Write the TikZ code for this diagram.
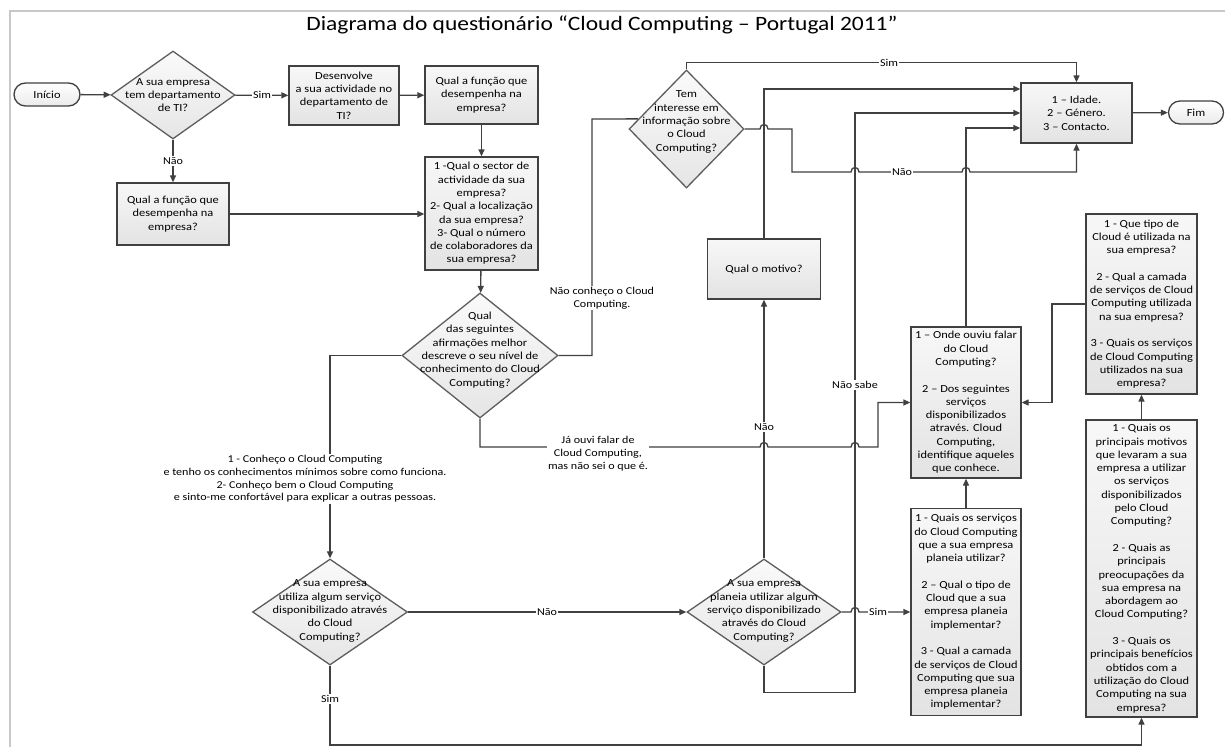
\documentclass[tikz,border=0pt]{standalone}
\usepackage{fontspec}
\setmainfont{Carlito}[FakeStretch=1.15]
\usetikzlibrary{arrows.meta,shapes.geometric,shapes.misc,calc}

\definecolor{edge}{HTML}{404040}
\definecolor{frameline}{HTML}{C8C8C8}

\tikzset{
  boxfont/.style={font=\fontsize{10.8}{13.3}\selectfont},
  qbox/.style={draw=edge, line width=1.3pt, rectangle, top color=black!3, bottom color=black!11,
    align=center, inner sep=1pt, boxfont},
  qdia/.style={draw=edge!85, line width=1.3pt, diamond, inner sep=0pt, top color=black!2, bottom color=black!10},
  diatext/.style={align=center, inner sep=0pt, boxfont},
  term/.style={draw=edge, line width=1.3pt, rounded rectangle, top color=white, bottom color=black!8,
    inner sep=1pt, boxfont},
  conn/.style={draw=edge, line width=1.3pt, line join=miter},
  arr/.style={conn, -{Triangle[length=7pt,width=6pt]}},
  lbl/.style={fill=white, inner sep=1pt, align=center, font=\fontsize{10.5}{13}\selectfont},
  bigtitle/.style={font=\fontsize{20.4}{24}\selectfont, inner sep=0pt}
}

\begin{document}
\begin{tikzpicture}[x=1pt,y=-1pt]
\useasboundingbox (0,0) rectangle (1225,747);
\fill[white] (0,0) rectangle (1225,747);

% page frame
\draw[frameline, line width=1.5pt] (10,747) -- (10,11) -- (1225,11);

\node[bigtitle] (title) at (602,25) {Diagrama do questionário “Cloud Computing – Portugal 2011”};

% terminators
\node[term, minimum width=68pt, minimum height=23pt] (start) at (47,94.5) {Início};
\node[term, minimum width=57pt, minimum height=23pt] (fim) at (1196,112.5) {Fim};

% decisions
\node[qdia, minimum width=124pt, minimum height=88pt] (D1) at (173,95) {};
\node[diatext] (D1t) at (D1) {A sua empresa\\tem departamento\\de TI?};

\node[qdia, minimum width=156pt, minimum height=125pt] (D2) at (480,355.5) {};
\node[diatext] (D2t) at (480,350) {Qual\\das seguintes\\afirmações melhor\\descreve o seu nível de\\conhecimento do Cloud\\Computing?};

\node[qdia, minimum width=115pt, minimum height=118pt] (D3) at (686.5,129) {};
\node[diatext] (D3t) at (686.5,122) {Tem\\interesse em\\informação sobre\\o Cloud\\Computing?};

\node[qdia, minimum width=155pt, minimum height=106pt] (D4) at (330,612) {};
\node[diatext] (D4t) at (330,611) {A sua empresa\\utiliza algum serviço\\disponibilizado através\\do Cloud\\Computing?};

\node[qdia, minimum width=154pt, minimum height=106pt] (D5) at (764,612) {};
\node[diatext] (D5t) at (764,611) {A sua empresa\\planeia utilizar algum\\serviço disponibilizado\\através do Cloud\\Computing?};

% question boxes
\node[qbox, minimum width=110pt, minimum height=59pt] (B1) at (344,95.5) {Desenvolve\\a sua actividade no\\departamento de\\TI?};
\node[qbox, minimum width=113pt, minimum height=58pt] (B2) at (481.5,95) {Qual a função que\\desempenha na\\empresa?};
\node[qbox, minimum width=112pt, minimum height=62pt] (B3) at (173,214) {Qual a função que\\desempenha na\\empresa?};
\node[qbox, minimum width=113pt, minimum height=113pt] (B4) at (481.5,213.5) {1 -Qual o sector de\\actividade da sua\\empresa?\\2- Qual a localização\\da sua empresa?\\3- Qual o número\\de colaboradores da\\sua empresa?};
\node[qbox, minimum width=111pt, minimum height=60pt] (B5) at (1076.5,113) {1 – Idade.\\2 – Género.\\3 – Contacto.};
\node[qbox, minimum width=113pt, minimum height=60pt] (B6) at (764,269) {Qual o motivo?};
\node[qbox, minimum width=110pt, minimum height=151pt] (B7) at (966,402.5) {1 – Onde ouviu falar\\do Cloud\\Computing?\\[13.3pt]2 – Dos seguintes\\serviços\\disponibilizados\\através. Cloud\\Computing,\\identifique aqueles\\que conhece.};
\node[qbox, minimum width=111pt, minimum height=180pt] (B8) at (1141.5,304) {1 - Que tipo de\\Cloud é utilizada na\\sua empresa?\\[13.3pt]2 - Qual a camada\\de serviços de Cloud\\Computing utilizada\\na sua empresa?\\[13.3pt]3 - Quais os serviços\\de Cloud Computing\\utilizados na sua\\empresa?};
\node[qbox, minimum width=111pt, minimum height=297pt] (B9) at (1141.5,568.5) {1 - Quais os\\principais motivos\\que levaram a sua\\empresa a utilizar\\os serviços\\disponibilizados\\pelo Cloud\\Computing?\\[13.3pt]2 - Quais as\\principais\\preocupações da\\sua empresa na\\abordagem ao\\Cloud Computing?\\[13.3pt]3 - Quais os\\principais benefícios\\obtidos com a\\utilização do Cloud\\Computing na sua\\empresa?};
\node[qbox, minimum width=110pt, minimum height=207pt] (B10) at (966,612) {1 - Quais os serviços\\do Cloud Computing\\que a sua empresa\\planeia utilizar?\\[13.3pt]2 – Qual o tipo de\\Cloud que a sua\\empresa planeia\\implementar?\\[13.3pt]3 - Qual a camada\\de serviços de Cloud\\Computing que sua\\empresa planeia\\implementar?};

% entry point on the upper-left edge of D3
\coordinate (d3in) at ($(D3.west)!0.17!(D3.north)$);

% connectors
\draw[arr] (start) -- (D1);
\draw[arr] (D1) -- (B1);
\draw[arr] (B1) -- (B2);
\draw[arr] (D1) -- (B3);
\draw[arr] (B3.east) -- (B3.east -| B4.west);
\draw[arr] (B2) -- (B4);
\draw[arr] (B4) -- (D2);
\draw[conn] (D2.east) -- (592,355.5) -- (592,119) -- (d3in);
\draw[arr] (D2.west) -| (D4.north);
\draw[arr] (D2.south) -- (480,447) -- (760,447)
  .. controls (760,441) and (768,441) .. (768,447) -- (851,447)
  .. controls (851,441) and (859,441) .. (859,447) -- (878,447) |- (B7.west);
\draw[arr] (D3.north) -- ++(0,-7) -| (B5.north);
\draw[arr] (D3.east) -- (760,129)
  .. controls (760,123) and (768,123) .. (768,129) -- (792,129) -- (792,172) -- (851,172)
  .. controls (851,166) and (859,166) .. (859,172) -- (962,172)
  .. controls (962,166) and (970,166) .. (970,172) -| (B5.south);
\draw[arr] (B6.north) |- ([yshift=24pt]B5.west);
\draw[arr] (D5.south) -- ++(0,27) -| (855,113) -- (B5.west);
\draw[arr] (D5) -- (B6);
\draw[arr] (D4) -- (D5);
\draw[arr] (D5.east) -- (851,612) .. controls (851,606) and (859,606) .. (859,612) -- (B10.west);
\draw[arr] (B10) -- (B7);
\draw[arr] (B7.north) |- ([yshift=-15pt]B5.west);
\draw[arr] (B8.west) -- (1052,304) |- (B7.east);
\draw[arr] (B9) -- (B8);
\draw[arr] (D4.south) -- (330,745) -| (B9.south);
\draw[arr] (B5) -- (fim);

% connector labels
\node[lbl] (l1) at (262,95) {Sim};
\node[lbl] (l2) at (173,161) {Não};
\node[lbl] (l3) at (602,298) {Não conheço o Cloud\\Computing.};
\node[lbl, font=\fontsize{10.5}{12.7}\selectfont] (l4) at (305,479) {1 - Conheço o Cloud Computing\\e tenho os conhecimentos mínimos sobre como funciona.\\2- Conheço bem o Cloud Computing\\e sinto-me confortável para explicar a outras pessoas.};
\node[lbl] (l5) at (598,454) {Já ouvi falar de\\Cloud Computing,\\mas não sei o que é.};
\node[lbl] (l6) at (889,63) {Sim};
\node[lbl] (l7) at (902,172) {Não};
\node[lbl] (l8) at (764,427) {Não};
\node[lbl] (l9) at (855,385) {Não sabe};
\node[lbl] (l10) at (547,612) {Não};
\node[lbl] (l11) at (878,612) {Sim};
\node[lbl] (l12) at (330,699) {Sim};
\end{tikzpicture}
\end{document}
